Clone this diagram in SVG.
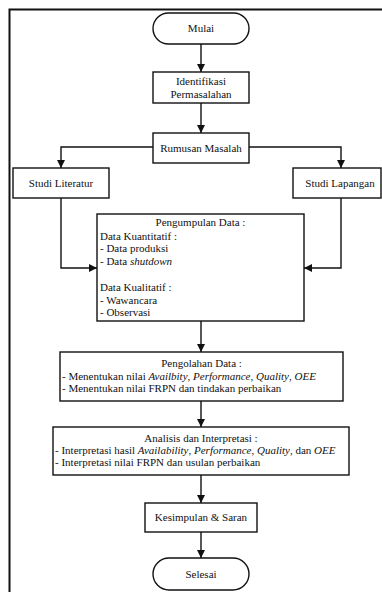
<svg xmlns="http://www.w3.org/2000/svg" width="382" height="592" viewBox="0 0 382 592">
<style>
.box{fill:#fff;stroke:#111;stroke-width:1.4}
.t{font-family:'Liberation Serif','Tinos','Times New Roman','DejaVu Serif',serif;font-size:11px;fill:#111}
.c{text-anchor:middle}
.i{font-style:italic}
.conn{fill:none;stroke:#111;stroke-width:1.4}
</style>
<defs>
<marker id="ah" markerUnits="userSpaceOnUse" markerWidth="9" markerHeight="9" refX="8" refY="4" orient="auto">
<path d="M0,0 L8,4 L0,8 z" fill="#111"/>
</marker>
</defs>
<rect x="0" y="0" width="382" height="592" fill="#fff"/>
<path d="M9.5,592 V9.5 H382" fill="none" stroke="#111" stroke-width="2"/>
<g id="connectors" class="conn">
<path d="M201,44 V72" marker-end="url(#ah)"/>
<path d="M201,103 V133" marker-end="url(#ah)"/>
<path d="M153,147 H61 V168" marker-end="url(#ah)"/>
<path d="M249,147 H341 V168" marker-end="url(#ah)"/>
<path d="M61,198 V268 H97" marker-end="url(#ah)"/>
<path d="M341,198 V268 H304" marker-end="url(#ah)"/>
<path d="M201,321 V352" marker-end="url(#ah)"/>
<path d="M201,401 V427" marker-end="url(#ah)"/>
<path d="M201,475 V503" marker-end="url(#ah)"/>
<path d="M201,532 V558" marker-end="url(#ah)"/>
</g>
<g id="mulai">
<rect class="box" x="153" y="13" width="96" height="31" rx="15.5"/>
<text class="t c" x="201" y="32">Mulai</text>
</g>
<g id="identifikasi">
<rect class="box" x="153" y="72" width="96" height="31"/>
<text class="t c" x="201" y="85">Identifikasi</text>
<text class="t c" x="201" y="98">Permasalahan</text>
</g>
<g id="rumusan">
<rect class="box" x="153" y="133" width="96" height="30"/>
<text class="t c" x="201" y="152">Rumusan Masalah</text>
</g>
<g id="literatur">
<rect class="box" x="13" y="168" width="96" height="30"/>
<text class="t c" x="61" y="187">Studi Literatur</text>
</g>
<g id="lapangan">
<rect class="box" x="293" y="168" width="88" height="30"/>
<text class="t c" x="340" y="187">Studi Lapangan</text>
</g>
<g id="pengumpulan">
<rect class="box" x="97" y="214" width="207" height="107"/>
<text class="t c" x="200.5" y="226">Pengumpulan Data :</text>
<text class="t" x="100" y="240">Data Kuantitatif :</text>
<text class="t" x="100" y="252">- Data produksi</text>
<text class="t" x="100" y="265">- Data <tspan class="i">shutdown</tspan></text>
<text class="t" x="100" y="291">Data Kualitatif :</text>
<text class="t" x="100" y="304">- Wawancara</text>
<text class="t" x="100" y="316">- Observasi</text>
</g>
<g id="pengolahan">
<rect class="box" x="60" y="352" width="283" height="49"/>
<text class="t c" x="201.5" y="367">Pengolahan Data :</text>
<text class="t" x="62" y="380">- Menentukan nilai <tspan class="i">Availbity</tspan>, <tspan class="i">Performance</tspan>, <tspan class="i">Quality</tspan>, <tspan class="i">OEE</tspan></text>
<text class="t" x="62" y="392">- Menentukan nilai FRPN dan tindakan perbaikan</text>
</g>
<g id="analisis">
<rect class="box" x="53" y="427" width="296" height="48"/>
<text class="t c" x="201" y="442">Analisis dan Interpretasi :</text>
<text class="t" x="55" y="454">- Interpretasi hasil <tspan class="i">Availability</tspan>, <tspan class="i">Performance</tspan>, <tspan class="i">Quality</tspan>, dan <tspan class="i">OEE</tspan></text>
<text class="t" x="55" y="466">- Interpretasi nilai FRPN dan usulan perbaikan</text>
</g>
<g id="kesimpulan">
<rect class="box" x="145" y="503" width="112" height="29"/>
<text class="t c" x="201" y="521">Kesimpulan &amp; Saran</text>
</g>
<g id="selesai">
<rect class="box" x="153" y="558" width="96" height="32" rx="16"/>
<text class="t c" x="201" y="578">Selesai</text>
</g>
</svg>
